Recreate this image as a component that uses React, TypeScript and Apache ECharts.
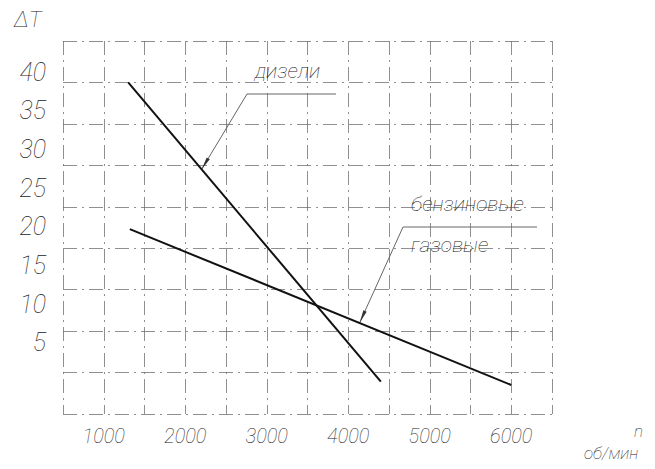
import React, { useEffect, useRef } from 'react';
import * as echarts from 'echarts';

const xTickLabels = [1000, 2000, 3000, 4000, 5000, 6000];
const yTickLabels = [5, 10, 15, 20, 25, 30, 35, 40];
const dieselRpm = [1300, 4400];
const dieselDT = [40, 3.9];
const petrolRpm = [1320, 6000];
const petrolDT = [22.3, 3.5];
const dieselLabel = 'дизели';
const petrolLabels = ['бензиновые', 'газовые'];
const dieselArrowTip = [2200, 29.5];
const petrolArrowTip = [4140, 11];
const yName = 'ΔT';
const xName = ['n', 'об/мин'];

const FONT = "Roboto, 'DejaVu Sans Condensed', 'DejaVu Sans', sans-serif";

function arrowHead(tip: number[], from: number[], len: number, half: number) {
  const dx = tip[0] - from[0];
  const dy = tip[1] - from[1];
  const L = Math.sqrt(dx * dx + dy * dy);
  const ux = dx / L, uy = dy / L;
  const bx = tip[0] - ux * len, by = tip[1] - uy * len;
  return [[tip[0], tip[1]], [bx - uy * half, by + ux * half], [bx + uy * half, by - ux * half]];
}

export default function App() {
  const ref = useRef<HTMLDivElement>(null);
  useEffect(() => {
    document.body.style.margin = '0';
    const chart = echarts.init(ref.current!, null, { renderer: 'svg' });
    const gridLine = { show: true, lineStyle: { color: '#6a6a6a', width: 1, type: [14, 5, 2, 5], opacity: 0.75 } };
    const labelStyle = { color: '#222', fontStyle: 'italic', fontFamily: FONT, fontWeight: 100 };
    chart.setOption({
      animation: false,
      backgroundColor: '#fff',
      grid: [
        { left: 63, top: 41, width: 489, height: 373 },
        { left: 63, top: 33.3, width: 489, height: 348.4 },
      ],
      xAxis: [
        {
          type: 'value', gridIndex: 0, min: 500, max: 6500, interval: 500,
          axisLine: { show: false }, axisTick: { show: false }, splitLine: gridLine,
          axisLabel: { ...labelStyle, fontSize: 20, margin: 12, formatter: (v: number) => (xTickLabels.includes(v) ? String(v) : '') },
        },
        { type: 'value', gridIndex: 1, min: 500, max: 6500, show: false },
      ],
      yAxis: [
        {
          type: 'value', gridIndex: 0, min: 0, max: 45, interval: 5,
          axisLine: { show: false }, axisTick: { show: false }, axisLabel: { show: false }, splitLine: gridLine,
        },
        {
          type: 'value', gridIndex: 1, min: 0, max: 45, interval: 5,
          axisLine: { show: false }, axisTick: { show: false }, splitLine: { show: false },
          axisLabel: { ...labelStyle, fontSize: 25, margin: 17, formatter: (v: number) => (yTickLabels.includes(v) ? String(v) : '') },
        },
      ],
      series: [
        {
          name: dieselLabel, type: 'line', xAxisIndex: 0, yAxisIndex: 0, symbol: 'none',
          lineStyle: { color: '#111', width: 2 },
          data: dieselRpm.map((x, i) => [x, dieselDT[i]]),
        },
        {
          name: petrolLabels.join(' '), type: 'line', xAxisIndex: 0, yAxisIndex: 0, symbol: 'none',
          lineStyle: { color: '#111', width: 2 },
          data: petrolRpm.map((x, i) => [x, petrolDT[i]]),
        },
      ],
    });

    const dTip = chart.convertToPixel({ gridIndex: 0 }, dieselArrowTip) as number[];
    const pTip = chart.convertToPixel({ gridIndex: 0 }, petrolArrowTip) as number[];
    const dElbow = [247, 94];
    const pElbow = [403, 227];
    const leader = { stroke: '#666', lineWidth: 1, fill: null };
    const txt = (text: string, x: number, y: number, size: number) => ({
      type: 'text', x, y,
      style: { text, fill: '#222', fontSize: size, fontStyle: 'italic', fontFamily: FONT, fontWeight: 100 },
    });
    chart.setOption({
      graphic: [
        txt(yName, 14, 8, 22),
        txt(xName[0], 634, 422, 17),
        txt(xName[1], 584, 444, 17),
        txt(dieselLabel, 255, 60, 21),
        { type: 'polyline', shape: { points: [[336, 94], dElbow, dTip] }, style: leader },
        { type: 'polygon', shape: { points: arrowHead(dTip, dElbow, 13, 1.8) }, style: { fill: '#333' } },
        txt(petrolLabels[0], 411, 193, 21),
        txt(petrolLabels[1], 411, 234, 21),
        { type: 'polyline', shape: { points: [[537, 227], pElbow, pTip] }, style: leader },
        { type: 'polygon', shape: { points: arrowHead(pTip, pElbow, 13, 1.8) }, style: { fill: '#333' } },
      ],
    });
    return () => chart.dispose();
  }, []);
  return <div ref={ref} style={{ position: 'absolute', left: 0, top: 0, width: 655, height: 469 }} />;
}
